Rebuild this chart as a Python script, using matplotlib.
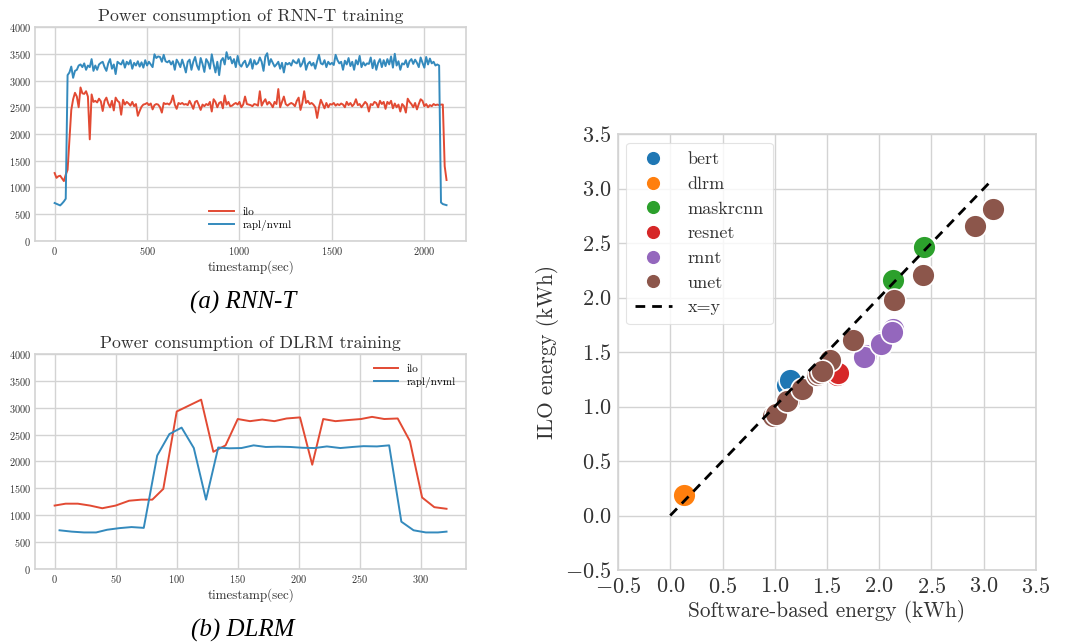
import numpy as np
import matplotlib
matplotlib.use("Agg")
import matplotlib.pyplot as plt
from matplotlib.lines import Line2D

plt.rcParams['font.family'] = ['cmr10', 'DejaVu Serif']
plt.rcParams['mathtext.fontset'] = 'cm'
plt.rcParams['axes.formatter.use_mathtext'] = True
plt.rcParams['axes.unicode_minus'] = True

# ---------------- RNN-T power data (10 s sampling) ----------------
rnnt_time = list(range(0, 2130, 10))
rnnt_ilo = [
    1270, 1180, 1210, 1220, 1170, 1120, 1240, 1330, 1900, 2450,
    2650, 2770, 2700, 2500, 2870, 2760, 2750, 2800, 2700, 1900,
    2740, 2600, 2620, 2590, 2660, 2610, 2430, 2620, 2680, 2570,
    2500, 2620, 2440, 2680, 2620, 2590, 2360, 2640, 2550, 2600,
    2570, 2530, 2600, 2520, 2560, 2340, 2430, 2510, 2550, 2560,
    2580, 2540, 2570, 2460, 2540, 2560, 2550, 2500, 2400, 2580,
    2560, 2570, 2550, 2600, 2720, 2550, 2470, 2580, 2560, 2580,
    2550, 2560, 2540, 2620, 2550, 2470, 2600, 2620, 2540, 2450,
    2550, 2520, 2560, 2540, 2600, 2420, 2650, 2600, 2500, 2580,
    2600, 2480, 2720, 2550, 2600, 2520, 2530, 2560, 2580, 2550,
    2600, 2500, 2550, 2700, 2560, 2550, 2540, 2520, 2560, 2550,
    2530, 2800, 2530, 2600, 2650, 2550, 2600, 2560, 2500, 2600,
    2560, 2840, 2500, 2600, 2700, 2560, 2530, 2560, 2580, 2560,
    2520, 2620, 2680, 2450, 2580, 2800, 2580, 2620, 2560, 2580,
    2550, 2500, 2300, 2500, 2640, 2560, 2480, 2580, 2500, 2560,
    2550, 2580, 2530, 2560, 2540, 2570, 2550, 2500, 2600, 2540,
    2580, 2520, 2560, 2650, 2540, 2560, 2500, 2550, 2600, 2560,
    2420, 2560, 2540, 2600, 2580, 2500, 2620, 2560, 2600, 2470,
    2600, 2560, 2620, 2480, 2570, 2500, 2550, 2420, 2560, 2520,
    2400, 2660, 2600, 2560, 2500, 2580, 2460, 2560, 2650, 2620,
    2520, 2560, 2500, 2540, 2520, 2560, 2540, 2550, 2540, 2550,
    2550, 1400, 1140,
]
rnnt_rapl = [
    710, 695, 680, 665, 700, 740, 790, 3100, 3150, 3260,
    3050, 3180, 3200, 3280, 3300, 3250, 3320, 3200, 3280, 3250,
    3400, 3180, 3280, 3200, 3300, 3330, 3350, 3250, 3180, 3320,
    3400, 3220, 3300, 3120, 3350, 3320, 3300, 3380, 3240, 3350,
    3300, 3380, 3220, 3330, 3280, 3360, 3260, 3340, 3240, 3380,
    3280, 3350, 3300, 3250, 3490, 3420, 3450, 3440, 3350, 3480,
    3360, 3340, 3370, 3300, 3360, 3200, 3390, 3330, 3250, 3390,
    3280, 3150, 3350, 3390, 3200, 3350, 3440, 3280, 3200, 3420,
    3310, 3160, 3400, 3340, 3220, 3490, 3310, 3150, 3350, 3100,
    3370, 3420, 3300, 3530, 3400, 3440, 3320, 3400, 3250, 3460,
    3300, 3260, 3330, 3370, 3250, 3300, 3400, 3220, 3380, 3300,
    3330, 3430, 3350, 3180, 3450, 3510, 3290, 3400, 3330, 3260,
    3300, 3350, 3220, 3330, 3150, 3330, 3300, 3330, 3280, 3380,
    3340, 3320, 3400, 3260, 3320, 3420, 3200, 3310, 3350, 3280,
    3330, 3220, 3360, 3480, 3320, 3300, 3380, 3250, 3350, 3300,
    3330, 3290, 3480, 3380, 3320, 3350, 3200, 3370, 3300, 3420,
    3270, 3350, 3200, 3380, 3300, 3460, 3250, 3340, 3280, 3320,
    3310, 3430, 3230, 3380, 3200, 3330, 3400, 3250, 3380, 3270,
    3400, 3300, 3450, 3240, 3500, 3280, 3360, 3200, 3320, 3300,
    3380, 3250, 3360, 3400, 3310, 3390, 3330, 3250, 3430, 3330,
    3240, 3440, 3300, 3410, 3320, 3350, 3280, 3300, 3280, 720,
    690, 680, 670,
]

# ---------------- DLRM power data ----------------
dlrm_ilo_time = [0, 9, 19, 29, 39, 50, 61, 71, 80, 89, 100, 110, 120, 130, 140,
                 150, 160, 170, 180, 190, 201, 211, 220, 230, 240, 251, 260,
                 270, 281, 291, 301, 311, 321]
dlrm_ilo = [1180, 1215, 1215, 1180, 1130, 1180, 1270, 1290, 1290, 1490, 2930,
            3040, 3150, 2180, 2300, 2790, 2750, 2780, 2750, 2800, 2820, 1940,
            2790, 2750, 2770, 2790, 2830, 2790, 2800, 2380, 1330, 1150, 1120]
dlrm_rapl_time = [4, 14, 24, 34, 43, 53, 63, 73, 84, 94, 104, 114, 124, 134,
                  143, 153, 163, 173, 183, 193, 203, 213, 223, 234, 244, 253,
                  264, 274, 284, 294, 304, 314, 321]
dlrm_rapl = [720, 695, 680, 680, 730, 760, 780, 765, 2110, 2510, 2630, 2250,
             1290, 2260, 2245, 2250, 2300, 2270, 2275, 2270, 2255, 2250, 2280,
             2250, 2270, 2285, 2280, 2300, 880, 720, 680, 680, 695]

# ---------------- Energy scatter data ----------------
workloads = ['bert', 'dlrm', 'maskrcnn', 'resnet', 'rnnt', 'unet']
sw_energy = {
    'bert': [1.12, 1.15],
    'dlrm': [0.13],
    'maskrcnn': [2.13, 2.43],
    'resnet': [1.60, 1.61],
    'rnnt': [1.87, 1.85, 2.03, 2.02, 2.13, 2.12],
    'unet': [0.98, 1.01, 1.14, 1.12, 1.26, 1.40, 1.42, 1.53, 1.45, 1.75,
             2.14, 2.42, 2.92, 3.09],
}
ilo_energy = {
    'bert': [1.20, 1.24],
    'dlrm': [0.19],
    'maskrcnn': [2.16, 2.46],
    'resnet': [1.29, 1.31],
    'rnnt': [1.47, 1.45, 1.59, 1.57, 1.71, 1.68],
    'unet': [0.91, 0.93, 1.06, 1.05, 1.16, 1.29, 1.31, 1.43, 1.33, 1.61,
             1.98, 2.21, 2.66, 2.81],
}
ref_line = [0.0, 3.07]
tick_vals = [-0.5, 0.0, 0.5, 1.0, 1.5, 2.0, 2.5, 3.0, 3.5]

RED = '#E24A33'
BLUE = '#348ABD'
GRID = '#d3d3d3'
TXT = '#333333'
wl_colors = ['#1f77b4', '#ff7f0e', '#2ca02c', '#d62728', '#9467bd', '#8c564b']

fig = plt.figure(figsize=(10.75, 6.43), dpi=100)


def style_axes(ax, fs, pad=3):
    ax.set_facecolor('white')
    ax.grid(True, color=GRID, linewidth=1.0)
    ax.set_axisbelow(True)
    for sp in ax.spines.values():
        sp.set_color(GRID)
        sp.set_linewidth(1.2)
    ax.tick_params(length=0, labelsize=fs, colors=TXT, pad=pad)


# RNN-T
ax1 = fig.add_axes([0.0326, 0.6252, 0.401, 0.3328])
style_axes(ax1, 7.4)
ax1.plot(rnnt_time, rnnt_ilo, color=RED, lw=1.4, label='ilo')
ax1.plot(rnnt_time, rnnt_rapl, color=BLUE, lw=1.4, label='rapl/nvml')
ax1.set_ylim(0, 4000)
ax1.set_yticks(range(0, 4001, 500))
ax1.set_xticks([0, 500, 1000, 1500, 2000])
ax1.set_title('Power consumption of RNN-T training', fontsize=12.8, color=TXT, pad=4)
ax1.set_xlabel('timestamp(sec)', fontsize=9.4, color=TXT, labelpad=2)
ax1.legend(loc='lower center', fontsize=8, frameon=False, handlelength=2.2,
           labelspacing=0.3)

# DLRM
ax2 = fig.add_axes([0.0326, 0.1151, 0.401, 0.3344])
style_axes(ax2, 7.4)
ax2.plot(dlrm_ilo_time, dlrm_ilo, color=RED, lw=1.4, label='ilo')
ax2.plot(dlrm_rapl_time, dlrm_rapl, color=BLUE, lw=1.4, label='rapl/nvml')
ax2.set_ylim(0, 4000)
ax2.set_yticks(range(0, 4001, 500))
ax2.set_xticks([0, 50, 100, 150, 200, 250, 300])
ax2.set_title('Power consumption of DLRM training', fontsize=12.8, color=TXT, pad=4)
ax2.set_xlabel('timestamp(sec)', fontsize=9.4, color=TXT, labelpad=2)
ax2.legend(loc='upper right', fontsize=8, frameon=False, handlelength=2.2,
           labelspacing=0.3)

# captions
fig.text(0.226, 0.529, '(a) RNN-T', fontsize=18, family='Liberation Serif',
         style='italic', ha='center', va='center', color='black')
fig.text(0.226, 0.020, '(b) DLRM', fontsize=18, family='Liberation Serif',
         style='italic', ha='center', va='center', color='black')

# Scatter
ax3 = fig.add_axes([0.5749, 0.1135, 0.3888, 0.678])
style_axes(ax3, 16, pad=5)
for wl, c in zip(workloads, wl_colors):
    ax3.scatter(sw_energy[wl], ilo_energy[wl], s=270, color=c,
                edgecolor='white', linewidth=1.2, zorder=3)
ax3.plot(ref_line, ref_line, color='black', lw=2, ls=(0, (3.5, 2.5)), zorder=4)
ax3.set_xlim(-0.5, 3.5)
ax3.set_ylim(-0.5, 3.5)
ax3.set_xticks(tick_vals)
ax3.set_yticks(tick_vals)
ax3.set_xlabel('Software-based energy (kWh)', fontsize=15.3, color=TXT, labelpad=2)
ax3.set_ylabel('ILO energy (kWh)', fontsize=15.3, color=TXT, labelpad=4)

handles = [Line2D([], [], ls='none', marker='o', markersize=10.5, color=c,
                  markeredgecolor='white') for c in wl_colors]
handles.append(Line2D([], [], color='black', lw=2, ls=(0, (3.5, 2.5))))
leg = ax3.legend(handles, workloads + ['x=y'], loc='upper left', fontsize=13,
                 frameon=True, handlelength=2.0, handletextpad=0.9,
                 labelspacing=0.5, borderpad=0.5, borderaxespad=0.0,
                 bbox_to_anchor=(0.02, 0.98))
leg.get_frame().set_edgecolor('#dddddd')
leg.get_frame().set_linewidth(0.8)
for t in leg.get_texts():
    t.set_color(TXT)

fig.savefig('out.png', dpi=100)
